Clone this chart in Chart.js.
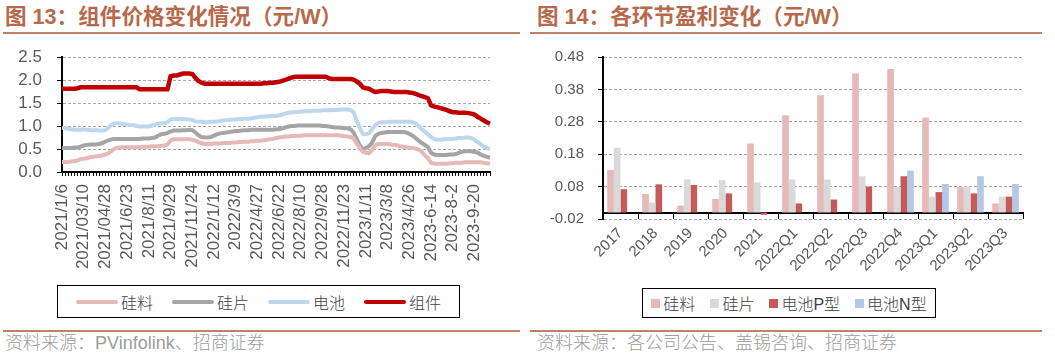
<!DOCTYPE html>
<html>
<head>
<meta charset="utf-8">
<script src="https://cdn.jsdelivr.net/npm/chart.js@4.4.0/dist/chart.umd.min.js"></script>
<style>
  html, body { margin: 0; padding: 0; background: #fff; }
  body { width: 1055px; height: 359px; position: relative; overflow: hidden; }
  .title { position: absolute; top: 5px; height: 24px; line-height: 24px; font-family: "Liberation Sans", "Noto Sans CJK SC", sans-serif; font-weight: bold; font-size: 21.6px; color: #B8694B; white-space: nowrap; }
  .rule { position: absolute; height: 2px; background: #C28066; }
  .source { position: absolute; top: 333px; height: 20px; line-height: 20px; font-family: "Liberation Sans", "Noto Sans CJK SC", sans-serif; font-weight: 300; font-size: 18px; color: #9C9C9C; white-space: nowrap; }
  canvas { position: absolute; }
  .legend { position: absolute; box-sizing: border-box; border: 1.5px solid #000; display: flex; align-items: center; justify-content: center; font-family: "Liberation Sans", "Noto Sans CJK SC", sans-serif; font-weight: 300; color: #404040; white-space: nowrap; }
  .legend .item { display: flex; align-items: center; }
</style>
</head>
<body>
<div class="title" style="left:5px">图 13：组件价格变化情况（元/W）</div>
<div class="rule" style="left:3px; top:32px; width:517px"></div>
<canvas id="c1" width="520" height="245" style="left:0px; top:40px"></canvas>
<div class="legend" id="lg1" style="left:57px; top:285px; width:403px; height:33px; font-size:16px"></div>
<div class="rule" style="left:3px; top:330px; width:517px"></div>
<div class="source" style="left:5px">资料来源：PVinfolink、招商证券</div>

<div class="title" style="left:537px">图 14：各环节盈利变化（元/W）</div>
<div class="rule" style="left:530px; top:32px; width:512px"></div>
<canvas id="c2" width="525" height="245" style="left:530px; top:40px"></canvas>
<div class="legend" id="lg2" style="left:642px; top:288px; width:294px; height:30px; font-size:16px"></div>
<div class="rule" style="left:530px; top:330px; width:512px"></div>
<div class="source" style="left:537px">资料来源：各公司公告、盖锡咨询、招商证券</div>

<script>
// ---------- Chart 13 data ----------
const dateTickLabels = ["2021/1/6","2021/03/10","2021/04/28","2021/6/23","2021/8/11","2021/9/29","2021/11/24","2022/1/12","2022/3/9","2022/4/27","2022/6/22","2022/8/10","2022/9/28","2022/11/23","2023/1/11","2023/3/8","2023/4/26","2023-6-14","2023-8-2","2023-9-20"];
const weeksBetweenLabels = 7;
const priceSeriesNames = ["硅料","硅片","电池","组件"];

const polysilicon = [
  0.22,0.22,0.22,0.23,0.24,0.25,0.28,0.29,0.30,0.32,0.33,0.34,0.35,0.36,0.38,
  0.41,0.46,0.51,0.53,0.54,0.54,0.54,0.54,0.54,0.54,0.54,0.55,0.55,0.55,0.56,0.56,0.56,0.57,0.57,0.60,
  0.68,0.71,0.71,0.71,0.71,0.71,0.71,0.70,0.68,0.65,0.63,0.61,0.61,0.61,0.62,
  0.62,0.62,0.63,0.63,0.63,0.64,0.64,0.65,0.65,0.66,0.66,0.67,0.67,0.68,0.68,0.69,0.70,0.71,0.72,0.74,0.75,
  0.76,0.77,0.77,0.78,0.78,0.79,0.79,0.80,0.80,0.80,0.80,0.80,0.80,0.80,0.80,0.80,0.80,0.80,0.80,0.79,0.78,0.77,0.76,
  0.73,0.62,0.52,0.44,0.42,0.41,0.48,0.58,0.61,0.61,0.61,0.61,0.60,0.59,0.58,0.56,0.55,0.54,0.53,0.52,
  0.51,0.49,0.44,0.36,0.30,0.20,0.18,0.18,0.18,0.18,0.18,0.19,0.19,0.20,0.20,0.20,0.21,0.21,0.21,0.21,0.21,0.21,0.20,0.19,0.18
];
const wafer = [
  0.52,0.52,0.52,0.52,0.53,0.53,0.55,0.58,0.59,0.60,0.60,0.60,0.61,0.63,0.66,
  0.69,0.71,0.72,0.72,0.72,0.72,0.72,0.72,0.72,0.72,0.72,0.73,0.73,0.73,0.74,0.75,0.79,0.82,0.83,0.85,
  0.88,0.90,0.90,0.90,0.91,0.91,0.92,0.91,0.86,0.80,0.76,0.75,0.75,0.76,0.79,
  0.82,0.84,0.85,0.86,0.87,0.88,0.89,0.89,0.90,0.91,0.91,0.92,0.92,0.92,0.92,0.92,0.92,0.92,0.92,0.93,0.93,
  0.95,0.97,0.99,1.00,1.00,1.01,1.01,1.01,1.01,1.01,1.01,1.01,1.01,1.00,1.00,0.99,0.98,0.97,0.97,0.96,0.95,0.95,0.93,
  0.86,0.72,0.58,0.49,0.52,0.56,0.64,0.78,0.83,0.85,0.86,0.87,0.87,0.87,0.87,0.87,0.87,0.86,0.83,0.79,
  0.74,0.68,0.63,0.59,0.54,0.42,0.38,0.37,0.37,0.37,0.37,0.38,0.38,0.39,0.42,0.44,0.45,0.45,0.45,0.44,0.42,0.38,0.35,0.33,0.31
];
const cell = [
  0.96,0.95,0.94,0.93,0.92,0.92,0.92,0.93,0.92,0.91,0.91,0.91,0.90,0.90,0.91,
  0.97,1.03,1.06,1.06,1.05,1.04,1.03,1.02,1.02,1.00,0.99,0.99,0.99,0.99,1.01,1.03,1.05,1.06,1.06,1.08,
  1.14,1.15,1.15,1.15,1.15,1.14,1.14,1.13,1.10,1.09,1.09,1.08,1.08,1.09,1.09,
  1.10,1.11,1.12,1.13,1.13,1.14,1.14,1.15,1.15,1.16,1.16,1.17,1.18,1.19,1.20,1.20,1.21,1.21,1.22,1.22,1.23,
  1.25,1.27,1.29,1.30,1.30,1.31,1.31,1.32,1.32,1.32,1.33,1.33,1.33,1.34,1.34,1.34,1.35,1.35,1.35,1.36,1.36,1.36,1.35,
  1.30,1.12,0.97,0.83,0.82,0.84,0.93,1.02,1.07,1.08,1.08,1.08,1.09,1.09,1.09,1.09,1.09,1.09,1.09,1.08,
  1.06,1.00,0.93,0.88,0.82,0.76,0.72,0.70,0.70,0.71,0.71,0.72,0.72,0.73,0.74,0.74,0.75,0.75,0.74,0.70,0.65,0.60,0.55,0.52,0.49
];
const moduleP = [
  1.81,1.81,1.81,1.81,1.81,1.82,1.84,1.84,1.84,1.84,1.84,1.84,1.84,1.84,1.84,
  1.84,1.84,1.84,1.84,1.84,1.84,1.84,1.84,1.84,1.84,1.80,1.80,1.80,1.80,1.80,1.80,1.80,1.80,1.80,1.80,
  2.08,2.10,2.10,2.12,2.14,2.14,2.14,2.13,2.05,1.98,1.94,1.92,1.92,1.92,1.92,
  1.92,1.92,1.92,1.92,1.92,1.92,1.92,1.92,1.92,1.92,1.92,1.92,1.92,1.92,1.92,1.93,1.93,1.94,1.94,1.95,1.96,
  1.98,2.00,2.03,2.05,2.07,2.07,2.07,2.07,2.07,2.07,2.07,2.07,2.07,2.07,2.07,2.04,2.02,2.02,2.02,2.02,2.02,2.02,2.02,
  2.01,1.97,1.92,1.84,1.82,1.81,1.77,1.74,1.75,1.76,1.76,1.76,1.75,1.74,1.74,1.74,1.74,1.74,1.73,1.72,
  1.70,1.67,1.65,1.63,1.60,1.45,1.42,1.41,1.39,1.37,1.35,1.32,1.30,1.30,1.29,1.29,1.29,1.28,1.27,1.25,1.20,1.16,1.12,1.08,1.05
];
const priceYTicks = [0, 0.5, 1.0, 1.5, 2.0, 2.5];

// ---------- Chart 14 data ----------
const periods = ["2017","2018","2019","2020","2021","2022Q1","2022Q2","2022Q3","2022Q4","2023Q1","2023Q2","2023Q3"];
const profitSeriesNames = ["硅料","硅片","电池P型","电池N型"];
const profitPoly   = [0.131,0.057,0.021,0.042,0.213,0.300,0.362,0.429,0.443,0.293,0.078,0.028];
const profitWafer  = [0.200,0.031,0.102,0.100,0.093,0.102,0.102,0.112,0.078,0.049,0.080,0.049];
const profitCellP  = [0.072,0.087,0.085,0.059,-0.007,0.028,0.040,0.080,0.112,0.063,0.059,0.049];
const profitCellN  = [null,null,null,null,null,null,null,null,0.129,0.088,0.112,0.088];
const profitYTicks = [-0.02, 0.08, 0.18, 0.28, 0.38, 0.48];

// ---------- shared styles ----------
const FONT = "'Liberation Sans', Arial, sans-serif";
const TICK_COLOR = '#595959';
const lineColors = ['#E6B8B7', '#A5A5A5', '#BDD7EE', '#C00000'];
const lineWidths = [4, 4, 4, 4.5];
const barColors = ['#E6B8B7', '#D9D9D9', '#C55A5A', '#B4C7E7'];

// category table for the weekly axis, built from the tick labels
const nWeeks = moduleP.length;
const weekLabels = [];
for (let i = 0; i < nWeeks; i++) {
  weekLabels.push(i % weeksBetweenLabels === 0 && dateTickLabels[i / weeksBetweenLabels] ? dateTickLabels[i / weeksBetweenLabels] : '');
}

const noVerticalPadding = s => { s.paddingTop = 0; s.paddingBottom = 0; };

const priceData = [polysilicon, wafer, cell, moduleP];
new Chart(document.getElementById('c1'), {
  type: 'line',
  data: {
    labels: weekLabels,
    datasets: priceSeriesNames.map((n, k) => ({
      label: n, data: priceData[k], borderColor: lineColors[k], backgroundColor: lineColors[k],
      borderWidth: lineWidths[k], pointRadius: 0, tension: 0, fill: false
    }))
  },
  options: {
    responsive: false, animation: false, devicePixelRatio: 1,
    layout: { padding: { top: 17, right: 30, left: 0, bottom: 0 } },
    plugins: { legend: { display: false }, tooltip: { enabled: false } },
    scales: {
      x: {
        type: 'category', offset: false,
        grid: { display: true, drawOnChartArea: false, drawTicks: true, tickLength: 4, color: '#000', tickColor: '#000', lineWidth: 1 },
        border: { display: true, color: '#000', width: 2 },
        ticks: { autoSkip: false, minRotation: 90, maxRotation: 90, padding: 8, color: TICK_COLOR, font: { family: FONT, size: 17 },
                 callback: (v, i) => weekLabels[i] },
        afterFit: s => { s.height = 113; s.paddingLeft = 0; s.paddingRight = 0; }
      },
      y: {
        min: 0, max: 2.5,
        afterBuildTicks: s => { s.ticks = priceYTicks.map(v => ({ value: v })); },
        ticks: { autoSkip: false, padding: 15, color: TICK_COLOR, font: { family: FONT, size: 17 }, callback: v => Number(v).toFixed(1) },
        grid: { color: '#A6A6A6', lineWidth: 1, tickLength: 5, tickColor: '#000', tickBorderDash: [] },
        border: { display: true, color: '#000', width: 2, dash: [3, 2] },
        afterFit: s => { s.width = 62; noVerticalPadding(s); }
      }
    }
  }
});

const profitData = [profitPoly, profitWafer, profitCellP, profitCellN];
new Chart(document.getElementById('c2'), {
  type: 'bar',
  data: {
    labels: periods,
    datasets: profitSeriesNames.map((n, k) => ({
      label: n, data: profitData[k], backgroundColor: barColors[k], borderWidth: 0,
      categoryPercentage: 0.76, barPercentage: 1.0
    }))
  },
  options: {
    responsive: false, animation: false, devicePixelRatio: 1,
    layout: { padding: { top: 17, right: 32, left: 0, bottom: 66 } },
    plugins: { legend: { display: false }, tooltip: { enabled: false } },
    scales: {
      x: {
        type: 'category', offset: true, position: { y: 0 },
        grid: { display: true, drawOnChartArea: false, drawTicks: true, tickLength: 5, color: '#000', tickColor: '#000', offset: true },
        border: { display: true, color: '#000', width: 2 },
        ticks: { autoSkip: false, minRotation: 45, maxRotation: 45, padding: 7, color: TICK_COLOR, font: { family: FONT, size: 15 } },
        afterFit: s => { s.paddingLeft = 0; s.paddingRight = 0; }
      },
      y: {
        min: -0.02, max: 0.48,
        afterBuildTicks: s => { s.ticks = profitYTicks.map(v => ({ value: v })); },
        ticks: { autoSkip: false, padding: 14, color: TICK_COLOR, font: { family: FONT, size: 15 }, callback: v => Number(v).toFixed(2) },
        grid: { color: '#A6A6A6', lineWidth: 1, tickLength: 5, tickColor: '#000', tickBorderDash: [] },
        border: { display: true, color: '#000', width: 2, dash: [3, 2] },
        afterFit: s => { s.width = 73; noVerticalPadding(s); }
      }
    }
  }
});

// ---------- HTML legends built from series names / colours ----------
function buildLegend(el, names, colors, kind, gapAfter) {
  names.forEach((n, k) => {
    const it = document.createElement('div');
    it.className = 'item';
    it.style.marginRight = (k < names.length - 1 ? gapAfter : 0) + 'px';
    const sw = document.createElement('span');
    if (kind === 'line') {
      sw.style.cssText = 'display:inline-block;width:42px;height:4px;border-radius:2px;margin-right:3px;background:' + colors[k];
    } else {
      sw.style.cssText = 'display:inline-block;width:9px;height:9px;margin-right:3px;background:' + colors[k];
    }
    const tx = document.createElement('span');
    tx.textContent = n;
    it.appendChild(sw); it.appendChild(tx);
    el.appendChild(it);
  });
}
buildLegend(document.getElementById('lg1'), priceSeriesNames, lineColors, 'line', 19);
buildLegend(document.getElementById('lg2'), profitSeriesNames, barColors, 'box', 15);
</script>
</body>
</html>
